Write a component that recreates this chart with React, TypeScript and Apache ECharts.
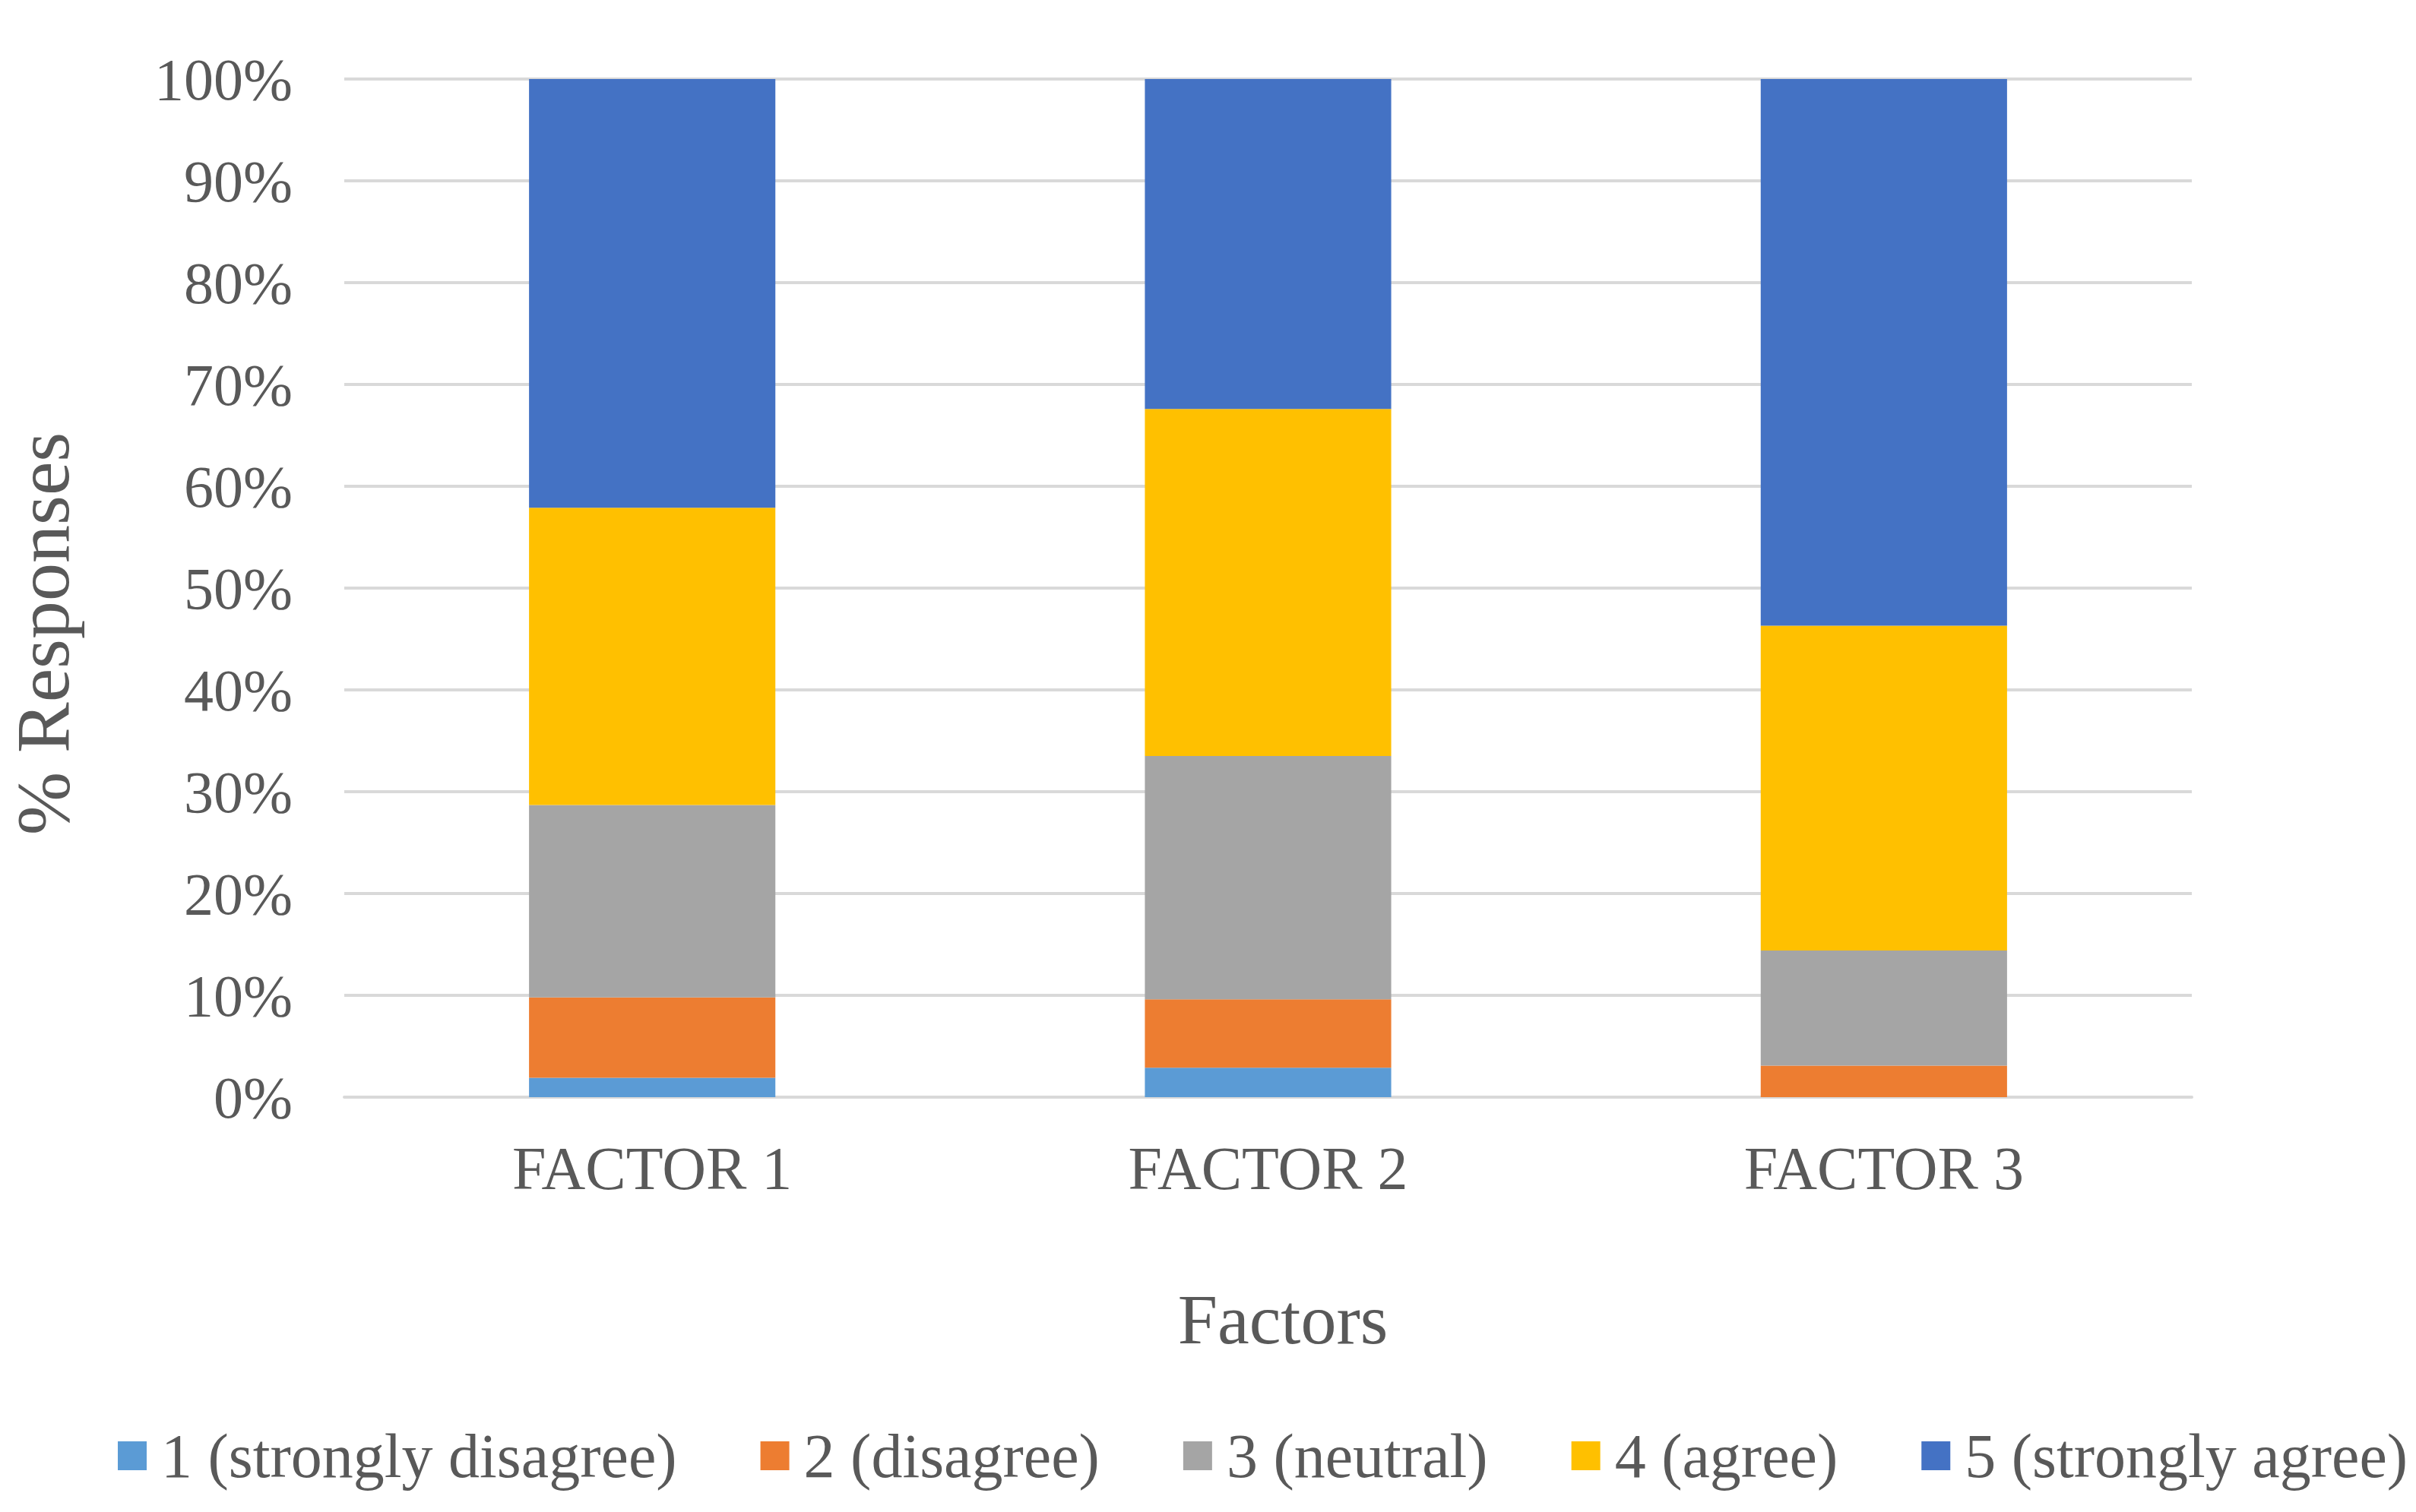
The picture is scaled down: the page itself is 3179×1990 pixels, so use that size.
import React, { useEffect, useRef } from "react";
import * as echarts from "echarts";

const categories = ["FACTOR 1", "FACTOR 2", "FACTOR 3"];
const seriesNames = [
  "1 (strongly disagree)",
  "2 (disagree)",
  "3 (neutral)",
  "4 (agree)",
  "5 (strongly agree)",
];
const stronglyDisagree = [1.9, 2.9, 0];
const disagree = [7.9, 6.7, 3.1];
const neutral = [18.9, 23.9, 11.3];
const agree = [29.2, 34.1, 31.9];
const stronglyAgree = [42.1, 32.4, 53.7];
const colors = ["#5B9BD5", "#ED7D31", "#A5A5A5", "#FFC000", "#4472C4"];
const yTicks = [0, 10, 20, 30, 40, 50, 60, 70, 80, 90, 100];

const FONT = "'Liberation Serif', 'Times New Roman', serif";
const TXT = "#595959";

export default function App() {
  const ref = useRef<HTMLDivElement>(null);
  useEffect(() => {
    if (!ref.current) return;
    const chart = echarts.init(ref.current, undefined, { renderer: "svg" });
    const values = [stronglyDisagree, disagree, neutral, agree, stronglyAgree];
    chart.setOption({
      animation: false,
      backgroundColor: "#ffffff",
      textStyle: { fontFamily: FONT },
      grid: { left: 453, right: 295, top: 104, bottom: 546, containLabel: false },
      legend: {
        bottom: 28,
        left: 150,
        itemWidth: 38,
        itemHeight: 38,
        itemGap: 110,
        icon: "rect",
        data: seriesNames,
        textStyle: { fontFamily: FONT, fontSize: 82, color: TXT, padding: [0, 0, 0, 14] },
      },
      xAxis: {
        type: "category",
        data: categories,
        axisLine: { show: true, lineStyle: { color: "#D9D9D9", width: 4 } },
        axisTick: { show: false },
        axisLabel: { fontFamily: FONT, fontSize: 80, color: TXT, margin: 54 },
      },
      yAxis: {
        type: "value",
        min: 0,
        max: 100,
        interval: 10,
        axisLine: { show: false },
        axisTick: { show: false },
        splitLine: { lineStyle: { color: "#D9D9D9", width: 4 } },
        axisLabel: {
          fontFamily: FONT,
          fontSize: 78,
          color: TXT,
          margin: 68,
          formatter: (v: number) => (yTicks.includes(v) ? `${v}%` : ""),
        },
      },
      graphic: [
        {
          type: "text",
          x: 1688,
          y: 1736,
          style: {
            text: "Factors",
            font: `94px ${FONT}`,
            fill: TXT,
            textAlign: "center",
            textVerticalAlign: "middle",
          },
        },
        {
          type: "text",
          x: 56,
          y: 834,
          rotation: Math.PI / 2,
          style: {
            text: "% Responses",
            font: `100px ${FONT}`,
            fill: TXT,
            textAlign: "center",
            textVerticalAlign: "middle",
          },
        },
      ],
      series: seriesNames.map((name, i) => ({
        name,
        type: "bar",
        stack: "total",
        barWidth: "40%",
        itemStyle: { color: colors[i] },
        data: values[i],
      })),
    });
    return () => chart.dispose();
  }, []);
  return (
    <div
      ref={ref}
      style={{ position: "fixed", left: 0, top: 0, width: 3179, height: 1990, background: "#fff" }}
    />
  );
}
